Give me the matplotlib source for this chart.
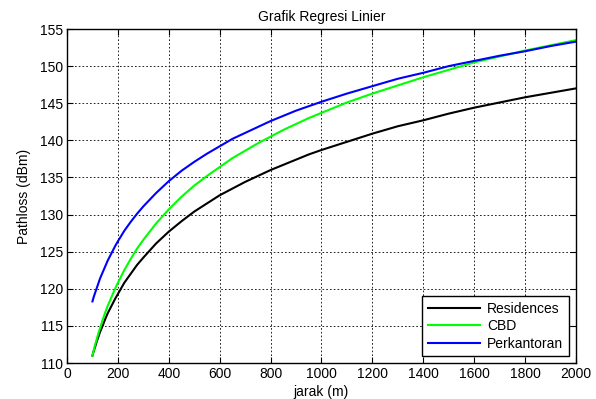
import matplotlib
matplotlib.use("Agg")
import matplotlib.pyplot as plt

# distance (m) and pathloss (dB)
jarak = [100, 105, 110, 115, 120, 125, 130, 140, 150, 160, 175, 190, 200, 225, 250,
         275, 300, 350, 400, 450, 500, 550, 600, 650, 700, 750, 800, 850, 900, 950,
         1000, 1100, 1200, 1300, 1400, 1500, 1600, 1700, 1800, 1900, 2000]
residences = [111.0, 111.6, 112.1, 112.7, 113.2, 113.7, 114.2, 115.0, 115.9, 116.7,
              117.7, 118.7, 119.3, 120.8, 122.0, 123.2, 124.2, 126.1, 127.7, 129.1,
              130.4, 131.5, 132.6, 133.5, 134.4, 135.2, 136.0, 136.7, 137.4, 138.1,
              138.7, 139.8, 140.9, 141.9, 142.7, 143.6, 144.4, 145.1, 145.8, 146.4, 147.0]
cbd = [111.0, 111.7, 112.4, 113.0, 113.6, 114.2, 114.7, 115.8, 116.8, 117.7,
       118.9, 120.1, 120.8, 122.5, 124.0, 125.4, 126.6, 128.8, 130.7, 132.4,
       133.9, 135.2, 136.4, 137.6, 138.6, 139.6, 140.5, 141.4, 142.2, 143.0,
       143.7, 145.1, 146.3, 147.4, 148.5, 149.5, 150.5, 151.3, 152.1, 152.8, 153.5]
perkantoran = [118.3, 118.9, 119.4, 119.9, 120.4, 120.9, 121.4, 122.2, 123.0, 123.8,
               124.8, 125.8, 126.4, 127.8, 129.0, 130.1, 131.1, 132.9, 134.5, 135.9,
               137.1, 138.2, 139.2, 140.2, 141.0, 141.8, 142.6, 143.3, 144.0, 144.6,
               145.2, 146.3, 147.3, 148.3, 149.1, 150.0, 150.7, 151.4, 152.0, 152.7, 153.3]

xticks = list(range(0, 2001, 200))
yticks = list(range(110, 156, 5))

plt.rcParams['font.family'] = ['Liberation Sans', 'DejaVu Sans']
fs = 10

fig = plt.figure(figsize=(5.96, 3.99), dpi=100)
ax = fig.add_axes([0.1124, 0.0902, 0.854, 0.8371])

ax.plot(jarak, residences, color='black', lw=1.5, label='Residences')
ax.plot(jarak, cbd, color='#00ff00', lw=1.5, label='CBD')
ax.plot(jarak, perkantoran, color='#0000ff', lw=1.5, label='Perkantoran')

ax.set_xlim(0, 2000)
ax.set_ylim(110, 155)
ax.set_xticks(xticks)
ax.set_yticks(yticks)
ax.grid(True, color='black', linestyle=(0, (2, 2.5)), linewidth=0.6)
ax.tick_params(direction='in', top=True, right=True, labelsize=fs, length=4, pad=3)
for s in ax.spines.values():
    s.set_linewidth(1.0)

ax.set_title('Grafik Regresi Linier', fontsize=fs, pad=6)
ax.set_xlabel('jarak (m)', fontsize=fs, labelpad=3)
ax.set_ylabel('Pathloss (dBm)', fontsize=fs, labelpad=6)

leg = ax.legend(loc='lower right', fontsize=fs, fancybox=False, framealpha=1,
                edgecolor='black', borderaxespad=0.5, handlelength=3.8,
                labelspacing=0.25, borderpad=0.4, handletextpad=0.5)
leg.get_frame().set_linewidth(1.0)

fig.savefig('out.png', dpi=100)
